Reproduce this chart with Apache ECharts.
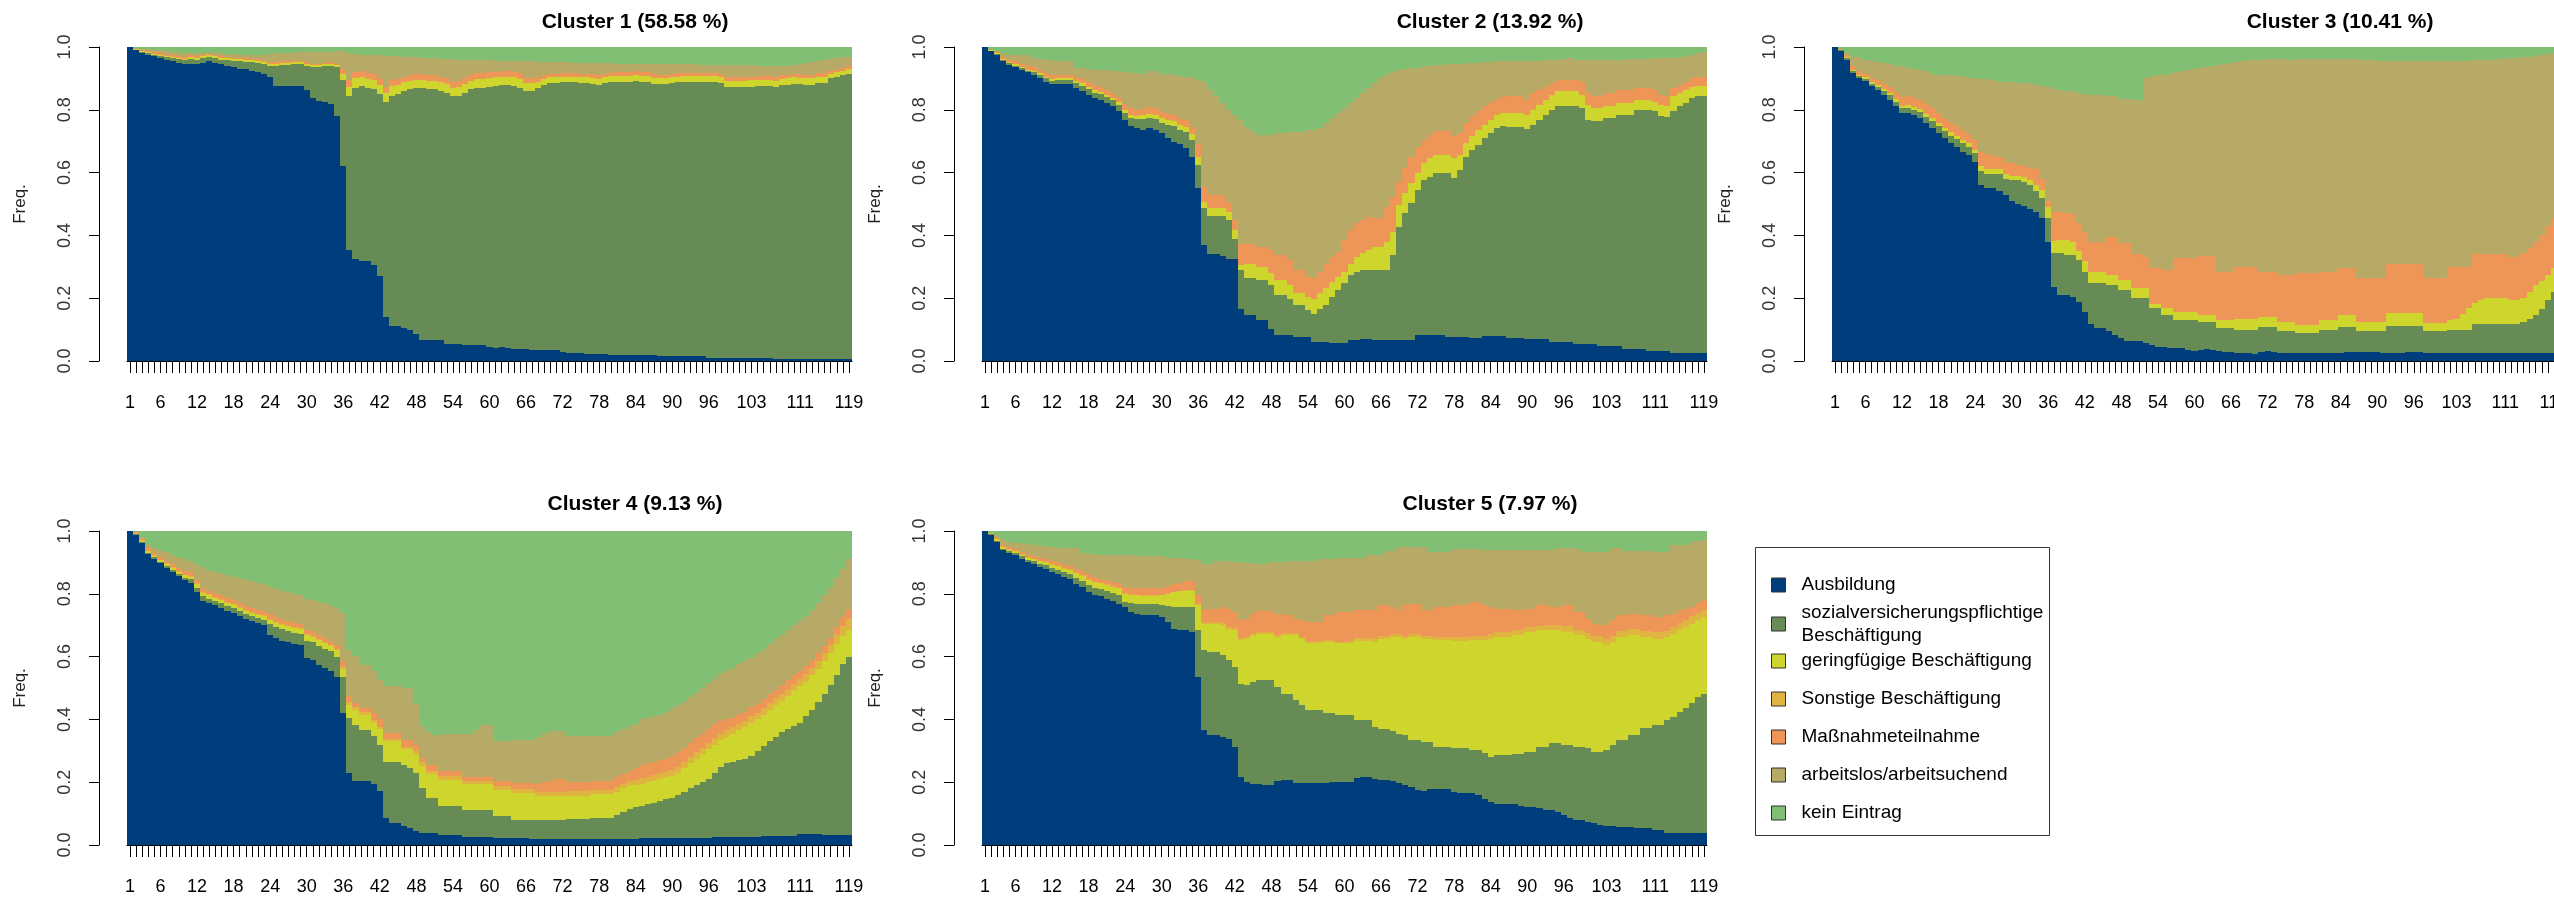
<!DOCTYPE html>
<html>
<head>
<meta charset="utf-8">
<script src="https://cdn.jsdelivr.net/npm/echarts@6.0.0/dist/echarts.min.js"></script>
<style>
  html, body { margin: 0; padding: 0; background: #fff; }
  #chart { width: 2554px; height: 900px; }
</style>
</head>
<body>
<div id="chart"></div>
<script>
// months on the x axis, and the ones R managed to label
const months = Array.from({ length: 119 }, (_, i) => String(i + 1))
const shownTicks = [1, 6, 12, 18, 24, 30, 36, 42, 48, 54, 60, 66, 72, 78, 84, 90, 96, 103, 111, 119]

const states = [
  'Ausbildung',
  'sozialversicherungspflichtige Beschäftigung',
  'geringfügige Beschäftigung',
  'Sonstige Beschäftigung',
  'Maßnahmeteilnahme',
  'arbeitslos/arbeitsuchend',
  'kein Eintrag'
]
const stateColors = ['#003D7C', '#668B55', '#CED62E', '#E0B440', '#EE9558', '#B7A966', '#81BF74']

// upper edges (in %) of the stacked states.
// Sonstige is kept as its own share, it sits between geringfügig and Maßnahme.
const noSonstige = [0,0,0,0,0,0,0,0,0,0, 0,0,0,0,0,0,0,0,0,0, 0,0,0,0,0,0,0,0,0,0, 0,0,0,0,0,0,0,0,0,0,
  0,0,0,0,0,0,0,0,0,0, 0,0,0,0,0,0,0,0,0,0, 0,0,0,0,0,0,0,0,0,0, 0,0,0,0,0,0,0,0,0,0,
  0,0,0,0,0,0,0,0,0,0, 0,0,0,0,0,0,0,0,0,0, 0,0,0,0,0,0,0,0,0,0, 0,0,0,0,0,0,0,0,0]

// Cluster 1
const c1Aus = [100,99,98,97.5,97,96.5,96,95.5,95,94.5,
  94.5,94.5,95,95.5,95,94.5,94,93.5,93,93,
  92.5,92,91.5,90.5,87.7,87.7,87.7,87.7,87.5,86.4,
  83.7,82.7,82.5,82,78,62,35.5,32.5,32,32,
  30.5,27,14,11,11,10.5,10,8.5,6.6,6.6,
  6.6,6.6,5.5,5.5,5.5,5,5,5,5,4.5,
  4,4.3,4,3.7,3.7,3.7,3.4,3.4,3.4,3.4,
  3.4,3,2.7,2.7,2.7,2.3,2.3,2.3,2.3,2,
  2,2,2,1.8,1.8,1.8,1.8,1.5,1.5,1.5,
  1.5,1.5,1.5,1.5,1.5,1.1,1.1,1.1,1.1,1.1,
  1.1,1.1,1.1,1.1,1.1,1.1,0.6,0.6,0.6,0.6,
  0.6,0.6,0.6,0.6,0.6,0.6,0.6,0.6,0.6]
const c1Svb = [100,99.2,98.4,98,97.6,97.2,96.8,96.5,96.2,96,
  96.2,96,96.5,96.8,96.5,96,95.8,95.5,95.5,95.3,
  95.2,95,94.5,94,94,94.3,94.3,94.5,94.5,94,
  93.5,93.5,93.8,94,93.5,89.5,84.5,87,87.5,86.8,
  86.5,85,82.5,84.5,85,86,86.5,86.8,86.8,86.5,
  86.5,86,85.5,84.3,84.5,85.5,86.5,87,87,87.3,
  87.5,87.8,87.8,87.5,87,86,86,87,88,88.5,
  88.5,88.7,88.7,88.7,88.5,88.5,88.3,88,88.5,88.8,
  89,89,89,89.2,89,89,88.3,88.2,88.2,88.5,
  88.7,88.8,88.8,88.8,88.8,88.8,88.8,88.5,87.3,87.2,
  87.2,87.3,87.4,87.5,87.5,87.5,87.3,87.8,88,88.3,
  88.2,88,88,88.4,88.5,90,90.5,91,91.5]
const c1Ger = [100,99.3,98.6,98.3,97.9,97.5,97.1,96.8,96.5,96.3,
  96.8,96.6,97.1,97.4,97.1,96.6,96.4,96.1,96.1,95.9,
  95.8,95.6,95.1,94.6,94.7,95,95,95.2,95.2,94.7,
  94.2,94.2,94.5,94.7,94.2,91.5,87.3,90,90.5,89.8,
  89.5,88,85.5,87.5,88,88.8,89.3,89.6,89.6,89.3,
  89.3,88.8,88.3,87.1,87.3,88.3,89.3,89.8,89.8,90.1,
  90.3,90.6,90.6,90.3,89.8,88.6,88.6,88.9,89.9,90.4,
  90.4,90.6,90.6,90.6,90.4,90.4,90.2,89.9,90.4,90.7,
  90.9,90.9,90.9,91.1,90.9,90.9,90.2,90.1,90.1,90.4,
  90.6,90.7,90.7,90.7,90.7,90.7,90.7,90.4,89.3,89.2,
  89.2,89.3,89.4,89.5,89.5,89.5,89.3,89.8,90,90.3,
  90.2,90,90,90.4,90.5,91.4,91.9,92.4,92.9]
const c1Mas = [100,99.5,98.9,98.6,98.3,98,97.6,97.3,97,96.8,
  97.3,97.1,97.6,97.9,97.6,97.1,96.9,96.6,96.6,96.4,
  96.3,96.1,95.6,95.1,95.2,95.5,95.5,95.7,95.7,95.2,
  94.7,94.7,95,95.2,94.7,93,89.4,91.9,92.4,91.7,
  91.4,89.9,87.4,89.4,89.9,90.6,91.1,91.4,91.4,91.1,
  91.1,90.6,90.1,88.9,89.1,90.1,91.1,91.6,91.6,91.9,
  92.1,92.4,92.4,92.1,91.6,90.1,90.1,90,91,91.5,
  91.5,91.7,91.7,91.7,91.5,91.5,91.3,91,91.5,91.8,
  92,92,92,92.2,92,92,91.3,91.2,91.2,91.5,
  91.7,91.8,91.8,91.8,91.8,91.8,91.8,91.5,90.5,90.4,
  90.4,90.5,90.6,90.7,90.7,90.7,90.5,91,91.2,91.5,
  91.4,91.2,91.2,91.6,91.7,92.3,92.8,93.3,93.8]
const c1Alo = [100,99.8,99.5,99.3,99.1,98.9,98.7,98.5,98.3,98.2,
  98,98,98.2,98.3,98.2,98,97.8,97.7,97.6,97.5,
  97.5,97.5,97.6,97.8,98,98.1,98.2,98.2,98.3,98.3,
  98.3,98.3,98.4,98.5,98.6,98.6,98.2,97.8,97.6,97.5,
  97.4,97.3,97.2,97.1,97,96.9,96.8,96.7,96.6,96.5,
  96.4,96.3,96.2,96.1,96,96,96,96,95.9,95.8,
  95.7,95.6,95.6,95.5,95.5,95.4,95.4,95.3,95.3,95.2,
  95.2,95.1,95.1,95,95,95,94.9,94.8,94.8,94.8,
  94.7,94.7,94.7,94.7,94.6,94.6,94.6,94.6,94.5,94.5,
  94.5,94.5,94.5,94.5,94.4,94.4,94.4,94.4,94.3,94.3,
  94.2,94.2,94.2,94.1,94.1,94,94,94,94.1,94.3,
  94.5,94.8,95.1,95.4,95.8,96.2,96.5,96.7,96.9]

// Cluster 2
const c2Aus = [100,98.6,97.5,95.4,94.4,93.6,92.8,91.9,91.2,90.1,
  89,88.2,88.2,88.2,88.2,86.9,85.9,84.8,83.7,83.2,
  82.1,81.1,79.5,76.8,74.9,74.1,73.6,74.1,73.6,72.6,
  71,69.9,69.1,67.8,65.1,55,36.9,34,34,33.5,
  32.5,32.5,16.7,14.6,14.6,13,13,10.3,8.2,8.2,
  8.2,7.5,7.5,7.5,6.1,6.1,6.1,5.7,5.7,5.7,
  6.6,6.6,7.1,7.1,6.8,6.8,6.8,6.8,6.8,6.8,
  6.8,8.2,8.2,8.2,8.2,8.2,7.7,7.7,7.7,7.7,
  7.3,7.3,7.9,7.9,7.9,7.9,7.4,7.4,7.4,6.9,
  6.9,6.9,6.9,6.1,6.1,6.1,6.1,5.3,5.3,5.3,
  5.3,4.7,4.7,4.7,4.7,3.9,3.9,3.9,3.9,3.2,
  3.2,3.2,3.2,2.6,2.6,2.6,2.6,2.6,2.6]
const c2Svb = [100,98.8,97.8,95.8,94.8,94,93.2,92.3,92,91,
  90,89.3,89.4,89.4,89.4,88.5,87.6,86.6,85.5,85,
  84,83,81.5,79,77.5,77,77,77.5,77,75.8,
  75.2,74.7,73.5,72.8,70.4,62.5,48.6,46.2,46.2,46.2,
  44.9,39,28.9,26.3,26.3,25.7,25.7,24.1,21,21,
  19.9,17.8,17.8,16.2,15.1,16.7,17.8,20.4,22.6,24.7,
  27.3,28.4,28.9,29.1,29.1,29.1,28.9,33.7,42.8,47,
  50.2,54.5,57.7,58.7,59.8,59.8,59.8,58.2,60.9,65.1,
  67.2,68.8,71,72.6,74.1,74.9,74.5,74.5,74.5,73.8,
  75.2,76.8,78.4,80,81.3,81.3,81.3,81.3,80.5,76.8,
  76.3,76.3,77.3,77.3,78.4,78.4,78.4,80,80,80,
  79.5,77.9,77.7,79.5,81.1,82.1,83.7,84.3,84.3]
const c2Ger = [100,99,98.1,96.2,95.2,94.5,93.7,92.8,92.5,91.6,
  90.6,89.9,90,90,90,89.3,88.4,87.4,86.3,85.8,
  84.8,83.8,82.4,80,78.5,78,78.2,78.8,78.4,77.4,
  76.8,76.3,75.1,74.5,72.2,65,50.7,48.6,48.6,48.6,
  47.6,41.7,30.5,31,31,30,30,27.9,25.7,25.7,
  24.1,21.5,21.5,20.4,19.9,21.5,23.1,25.2,26.8,28.4,
  31,33.2,34.3,35.3,36.4,36.4,38,41.2,49.7,53.4,
  56.6,59.8,63,64.6,65.6,65.6,65.6,64.6,65.6,69.4,
  71.5,73.6,75.2,76.8,78.4,79.1,78.9,78.9,78.9,78.4,
  80,81.6,83.2,84.8,85.9,85.9,85.9,85.9,84.8,81.6,
  80.5,80.5,81.1,81.1,82.1,82.1,82.1,83.2,83.2,83.2,
  82.6,81.6,81.1,84.3,85.3,86.4,87.4,87.7,87.7]
const c2Mas = [100,99.2,98.5,96.8,96,95.4,94.7,93.9,93.6,92.7,
  91.7,91,91.1,91.1,91,90.5,89.7,88.8,87.8,87.3,
  86.4,85.5,84.2,82,80.5,80,80.3,81,80.6,79.4,
  78.8,78.3,77.2,76.6,74.4,69,55.5,52.9,52.9,52.9,
  50.7,44.9,37.4,37.4,37.4,36.4,36.4,35.3,33.7,33.7,
  32.1,28.9,28.9,26.8,26.3,28.4,31,33.2,34.8,38.5,
  41.7,43.8,44.9,46,45.4,45.4,49.1,52.3,57.1,61.4,
  65.1,68.3,70.4,72,73.1,73.1,73.1,71.5,72.6,75.7,
  77.9,79.5,81.1,82.1,83.2,84,84.3,84.3,84.3,83.2,
  85.3,86.4,87.4,88.5,89.4,89.4,89.4,89.4,89,85.3,
  84.3,84.3,85.3,85.3,86.4,86.4,86.4,86.9,86.9,86.9,
  86.4,84.8,84.3,86.9,88,89,90.1,90.4,90.4]
const c2Alo = [100,99.5,98.8,98,97.3,97.3,97.3,97.3,96.5,96.3,
  96,95.8,95.6,95.5,95.5,93.3,93.2,93,92.8,92.7,
  92.6,92.5,92.2,92,91.8,91.6,91.5,92.3,92.2,91.5,
  91.3,91,90.8,90.6,90.5,89.5,89,86.4,84.3,82.1,
  80,78.4,76.8,74.5,73.1,72,72,72,72.5,72.5,
  72.8,73,73,73.6,73.6,74.1,75.7,77.3,78.9,80.5,
  82.1,83.7,85.3,86.9,88.5,90.1,91.2,91.9,92.6,93,
  93.3,93.3,93.8,93.8,94.4,94.4,94.7,94.7,94.7,95,
  95,95,95.1,95.2,95.4,95.4,95.4,95.4,95.4,95.5,
  95.6,95.7,95.8,95.9,96,96.2,96.5,96,96,95.8,
  95.8,96,96,96,96,96,96.1,96.2,96.2,96.3,
  96.5,96.5,96.5,96.6,96.8,97.2,97.6,98,98.3]

// Cluster 3
const c3Aus = [100,98.6,96,91.7,90.1,89.1,87.5,86.4,84.8,83.2,
  81.1,79,79,78.4,77.4,75.8,74.2,72.6,71,69.4,
  68.3,66.7,65.7,63.5,56.1,55,55,54,52.9,51,
  50,49.5,48.5,47.5,45.5,38,23.7,21,21,20.5,
  18.9,15.7,11.7,10.6,10.6,9.4,8.3,7.2,6.4,6.4,
  6.4,5.6,5.1,4.6,4.3,4,4,4,3.5,3.2,
  3.5,3.8,3.5,3.2,2.8,2.8,2.4,2.4,2.4,2.1,
  2.8,3.2,2.8,2.4,2.4,2.4,2.4,2.4,2.4,2.4,
  2.4,2.4,2.4,2.4,3,3,3,3,2.8,2.8,
  2.6,2.6,2.6,2.6,2.8,2.8,2.8,2.6,2.6,2.6,
  2.4,2.4,2.4,2.4,2.4,2.4,2.4,2.4,2.6,2.4,
  2.4,2.4,2.4,2.4,2.4,2.4,2.4,2.4,2.4]
const c3Svb = [100,98.9,96.5,92.3,90.7,89.8,88.3,87.3,86,84.6,
  82.6,80.5,80.5,80,79.2,77.8,76.3,74.8,73.2,71.8,
  70.8,69.3,68.3,66.2,60.4,59.5,59.5,59.5,58,57.5,
  57.5,57,56,54,52,45.5,34.4,34.4,33.8,33.8,
  32.2,28.5,24.8,24.8,24.8,24.2,24.2,22.6,22.6,20,
  20,20,16.8,16.8,14.7,14.7,13,13,13,13,
  12.5,12.5,12.5,10.4,10.4,10.4,9.9,9.9,9.9,9.9,
  10.9,10.9,10.9,9.4,9.4,9.4,8.8,8.8,8.8,8.8,
  9.9,9.9,9.9,10.9,10.9,10.9,9.4,9.4,9.4,9.4,
  9.4,11,11,11,11,11,11,9.4,9.4,9.4,
  9.4,10,10,10,10,11.7,11.7,11.7,11.7,11.7,
  11.7,11.7,11.7,12.5,13.5,14.6,16.5,19.5,22]
const c3Ger = [100,99,96.8,92.7,91.1,90.3,88.8,87.9,86.6,85.3,
  83.4,81.3,81.5,81,80.2,78.8,77.3,75.8,74.2,72.8,
  71.8,70.3,69.3,67.2,62,61,61,61,59.5,59,
  59,58.5,57.5,56,54.5,49,38.1,38.5,38.5,38,
  34.9,31.7,28.5,28.5,28.5,27.4,27.4,25.8,25.8,23.2,
  23.2,23.2,18,18,16.8,16.8,15.7,15.7,15.7,15.7,
  14.7,14.7,14.7,13,13,13,13.3,13.3,13.3,13.3,
  14.1,14.1,14.1,12.5,12.5,12.5,11.5,11.5,11.5,11.5,
  13,13,13,14.7,14.7,14.7,12.5,12.5,12.5,12.5,
  12.5,15.2,15.2,15.2,15.2,15.2,15.2,12,12,12,
  12,13,13.5,15,17,18.5,19.5,20,20,20,
  20,19.5,19.5,20,22,24.2,25.5,27.5,29.5]
const c3Mas = [100,99.3,97.5,93.8,92.2,91.5,90.2,89.4,88.2,87.2,
  85.6,84,84.3,83.8,83.2,82,80.5,79,77.5,76,
  75,73.5,72.3,70.5,66.5,65.8,65.5,65,63.5,63,
  62.5,62,61.5,61,58,51,47.6,47.6,47,46.8,
  43.9,41.2,38,38,38,39.6,39.6,37.5,37.5,34,
  34,33,29.5,29.5,29,29,32.7,32.7,32.7,32.7,
  33.5,33.5,33.5,28.5,28.5,28.5,30,30,30,30,
  28.5,28.5,28.5,27.4,27.4,27.4,28,28,28,28,
  28.5,28.5,28.5,29.5,29.5,29.5,26.4,26.4,26.4,26.4,
  26.4,31,31,31,31,31,31,26.4,26.4,26.4,
  26.4,30,30,30,30,34,34,34,34,34,
  34,33,33,34.5,36,38,40,43,45.5]
const c3Alo = [100,99.3,98,96.8,96.7,95.8,95.5,95.3,95,94.5,
  94,93.8,93.2,93,92.8,92.5,91.5,91.2,91,91,
  90.8,90.7,90.2,90,89.9,89.8,89.6,89,88.8,88.7,
  88.6,88.5,88.4,88,87.6,87.2,86.5,86.3,86.1,86,
  85.3,85,84.8,84.7,84.6,84.5,84.4,83.5,83.3,83.2,
  83.2,90.1,90.8,91,91.2,91.5,92,92.3,92.6,93,
  93.3,93.7,94,94.3,94.7,95,95.2,95.4,95.8,96,
  96,96.1,96.1,96.2,96.1,96,96.1,96.2,96.2,96.1,
  96.2,96.3,96.3,96.2,96.1,96.2,96.1,96,95.9,95.8,
  95.7,95.7,95.6,95.5,95.5,95.4,95.4,95.4,95.5,95.5,
  95.6,95.6,95.6,95.6,95.7,95.8,95.8,95.9,96,96.1,
  96.3,96.4,96.5,96.7,96.9,97.1,97.4,97.7,98]

// Cluster 4
const c4Aus = [100,98.7,96.1,92.6,91.1,89.7,88.3,87.1,85.8,84.4,
  83.4,80.7,77.8,77,76.3,75.4,74.6,73.8,72.8,71.9,
  71.2,70.7,70.1,67,65.9,65,64.5,64,63.6,59.7,
  59,57.4,56.4,55.5,53.4,42.1,23,20.5,20.5,20.5,
  19.3,17.2,8.7,7.1,7.1,6,5.3,4.4,3.9,3.9,
  3.9,3.2,3.2,3.2,3.2,2.6,2.6,2.6,2.6,2.6,
  2.3,2.3,2.3,2.3,2.3,2.3,1.8,1.8,1.8,1.8,
  1.8,1.8,1.8,1.8,1.8,1.8,1.8,1.8,1.8,1.8,
  1.8,1.8,1.8,1.8,2.3,2.3,2.3,2.3,2.3,2.3,
  2.3,2.3,2.3,2.3,2.3,2.3,2.6,2.6,2.6,2.6,
  2.6,2.6,2.6,2.6,3,3,3,3,3,3,
  3.4,3.4,3.4,3.4,3.2,3.2,3.2,3.2,3.2]
const c4Svb = [100,99,96.5,93.1,91.6,90.2,88.9,87.7,86.4,85.1,
  84.6,82,79.2,78.5,77.8,77,76.2,75.4,74.5,73.6,
  72.9,72.4,71.8,70.5,69.5,68.7,68.2,67.6,67.2,65,
  64.5,63.5,62.5,61.7,60,53.5,40.5,38.3,36.5,36.5,
  34.6,32,26.5,26.5,26.5,25.5,24.5,23,18.2,15,
  15,12.3,12.3,12.3,12.3,11.3,11.3,11.3,11.3,11.3,
  9.3,9.3,9.3,7.9,7.9,7.9,7.9,8,8,8,
  8,8,8.2,8.2,8.2,8.2,8.7,8.7,8.7,8.7,
  9.5,10.5,11.5,12,12.5,13,13.5,14,14.5,15,
  16,17,18,19,20,21,23,25,26,26.3,
  27,27.5,28.5,30,31.5,33,34.5,36,37,38,
  39,41,43,45.5,48,51,54,57.5,60]
const c4Ger = [100,99.2,96.8,93.5,92.1,90.7,89.5,88.3,87.1,85.9,
  85.5,83,80.2,79.5,78.8,78,77.2,76.4,75.5,74.6,
  73.9,73.4,72.8,71.7,70.8,70.1,69.6,69.1,68.7,66.8,
  66.3,65.3,64.3,63.5,62,56,44.7,43.1,41.5,41.5,
  38.9,36.8,33,33,33,30.5,30.5,28.8,25.1,22.5,
  22.5,20.8,20.8,20.8,20.8,19.3,19.3,19.3,19.3,19.3,
  17.5,17.5,17.5,16.6,16.6,16.6,16.6,15.5,15.5,15.5,
  15.5,15.5,15.6,15.6,15.6,15.6,16.1,16.1,16.1,16.1,
  17,18,19,19.2,19.5,20,20.5,21,21.5,22,
  23,24.5,26,27.5,29,30.5,32,33.5,34.5,35.5,
  36.5,37.5,39,40,41.5,43,44.5,46,47.5,49,
  50.5,52,54,56,58.5,61,64,66.5,68.5]
const c4Son = [0,0.2,0.2,0.2,0.2,0.2,0.2,0.2,0.2,0.2,
  0.3,0.3,0.3,0.3,0.3,0.3,0.3,0.3,0.3,0.3,
  0.3,0.3,0.3,0.3,0.3,0.3,0.3,0.3,0.3,0.3,
  0.3,0.3,0.3,0.3,0.3,0.6,0.8,0.8,0.8,0.8,
  0.8,0.8,0.8,0.8,0.8,0.8,0.8,1,1.2,1.2,
  1.2,1.2,1.2,1.2,1.2,1.2,1.2,1.2,1.2,1.2,
  1.2,1.2,1.2,1.2,1.2,1.2,1.2,1.5,1.5,1.5,
  1.5,1.5,1.5,1.5,1.5,1.5,1.5,1.5,1.5,1.5,
  1.5,1.5,1.5,1.5,1.8,1.8,1.8,1.8,1.8,1.8,
  2,2,2,2,2,2,2,2,2,2,
  2,2,2,2,2.2,2.2,2.2,2.2,2.2,2.2,
  2.5,2.5,2.5,2.5,2.8,2.8,3,3.2,3.5]
const c4Mas = [100,99.6,97.5,94.5,93,91.8,90.6,89.5,88.3,87.2,
  86.8,84.5,81.8,81,80.3,79.5,78.8,78,77.1,76.2,
  75.5,75,74.5,73.5,72.5,71.8,71.3,70.8,70.4,68.5,
  68,67,66,65,63.7,58.5,47.4,45.2,43.5,43.5,
  42,40,35.7,35.7,35.7,33.3,33.3,32,27.8,25.6,
  25.6,23.5,23.5,23.5,23.5,21.5,21.5,21.5,21.5,21.5,
  20.3,20.3,20.3,19.8,19.8,19.8,19.8,19.3,20,20.5,
  21,21,20.1,20.1,20.1,20.1,20.3,20.3,20.3,20.3,
  21.5,22.5,23.5,24.5,25.5,26,26.5,27,27.5,28.5,
  29.5,31,32.5,34,35.5,37,38.5,39.5,40,40.5,
  41.5,42.5,44,45,46.5,48,49.5,51,52.5,54,
  55.5,57,59,61,63.5,66,69.5,72.5,75]
const c4Alo = [100,99.8,98,95.5,94.5,94,93.2,92.5,91.8,91.2,
  90.5,89.5,88.5,87.5,87,86.5,86,85.5,85,84.5,
  84,83.5,83,82.3,81.5,81,80.7,80,79.5,78.5,
  78,77.5,77,76.5,75.5,74,62.2,60.1,57.4,57.4,
  55.3,52.6,50.7,50.7,50.7,50,50,45,38,36,
  35,35,35.2,35.2,35.2,35.2,35.5,36.5,38.3,38.3,
  33,33,33,33.5,33.5,33.5,33.5,34.5,35.5,36.3,
  36.3,36.3,34.6,34.6,34.6,34.6,34.6,34.6,34.6,34.6,
  36,37,38,38.5,40,40.5,41,41.5,42.5,43.5,
  44.5,45.5,47,48.5,50,51.5,53,54.5,55.5,56.5,
  57.5,58.5,59.5,61,62.5,64,65.5,67,68.5,70,
  71.5,73,75,77,79.5,82,85,88,91]

// Cluster 5
const c5Aus = [100,98.6,96.5,93.8,93,92.3,91.2,90.1,89.4,88.5,
  88,87,86.4,85.4,84.8,83.2,82.2,80.6,79.5,79.2,
  78.5,77.7,76.9,75.8,74.2,73.7,73.2,73.2,73.2,72.6,
  71,68.9,68.6,68.4,67.9,53.6,36.6,35,35,34.5,
  33.6,31.3,21.7,20.1,19.4,19.4,19,19,20.5,20.7,
  20.7,19.8,19.8,19.8,19.8,19.8,19.6,20.1,20.1,20.1,
  20.1,21.2,21.5,21.5,20.9,20.7,20.7,20.5,19.8,19,
  18.6,17.5,17.2,17.7,17.7,17.7,17.7,17,16.7,16.7,
  16.7,15.9,14.8,13.8,13,13,13,13,12.4,12,
  12,11.7,11.3,11.3,10.6,9.5,8.5,8,8,7.4,
  6.9,6.4,6,6,5.6,5.6,5.6,5.3,5.3,5.3,
  4.8,4.8,3.9,3.9,3.9,3.9,3.9,3.9,3.9]
const c5Svb = [100,98.9,96.9,94.3,93.6,92.9,91.9,90.9,90.3,89.5,
  89.1,88.2,87.7,86.8,86.3,85,84.2,82.8,81.9,81.6,
  81,80.3,79.7,77.5,77,76.8,76.6,76.6,76.6,76.4,
  76,75.8,75.8,75.8,75.8,68.4,62,61.5,61.5,60.4,
  58.9,56.7,51.4,50.9,52,52.5,52.5,52.5,50.4,48,
  48,46.1,44.5,42.9,42.9,42.9,41.9,41.9,41.4,41.4,
  41.4,39.8,39.8,39.8,37.6,36.8,36.8,36.4,35.5,35,
  33.4,33.4,32.9,32.9,31.3,31.3,31.3,30.8,30.8,30.8,
  30.2,30.2,29.2,28.1,28.6,28.6,28.6,29,29,29.6,
  29.6,31.3,31.3,32.4,32.4,31.8,31.8,31.3,31.3,30.8,
  29.7,29.7,30.2,31.8,33.4,33.4,35,35,37.2,37.2,
  38.2,38.2,39.8,40.8,42.4,43.5,45.1,47,48]
const c5Ger = [100,99.1,97.3,94.8,94.1,93.5,92.5,91.5,91,90.3,
  90,89.2,88.8,88,87.6,86.5,85.8,84.5,83.6,83.3,
  82.8,82.2,81.7,80,79.7,79.5,79.3,79.3,79.3,79.5,
  80,80.5,80.8,81,81,76.4,70.5,70.5,70.5,70,
  68.9,68.4,65.2,65.7,66.7,67.3,67.3,67.3,66.3,66.8,
  66.8,66.8,65.7,64.3,64.3,64.3,64.7,64.7,64.2,64.2,
  64.2,65,65,65,64.7,65.7,65.7,66.3,66.3,65.7,
  66.3,66.3,65.7,65.7,65.2,65.2,65.2,65,65,65,
  65.2,65.2,65.2,65.7,66.3,66.3,66.3,67,67,67.9,
  67.9,68.4,68.4,68.4,68.4,67.9,67.9,66.8,66.8,65.7,
  64.5,64.5,63.6,64.7,66.3,66.3,66.8,66.8,66.3,66.3,
  65.7,65.7,66.3,67.3,68.4,69.5,70.5,71.5,72.5]
const c5Son = [0,0.2,0.2,0.2,0.2,0.2,0.2,0.2,0.2,0.2,
  0.2,0.2,0.2,0.2,0.2,0.2,0.2,0.2,0.2,0.2,
  0.2,0.2,0.2,0.2,0.2,0.2,0.2,0.2,0.2,0.2,
  0.2,0.2,0.2,0.2,0.2,0.5,0.6,0.6,0.6,0.6,
  0.6,0.6,0.6,0.6,0.6,0.6,0.6,0.6,0.6,0.6,
  0.6,0.6,0.6,0.6,0.6,0.6,0.6,0.6,0.6,0.6,
  0.8,0.8,0.8,0.8,0.8,0.8,0.8,0.8,0.8,0.8,
  1,1,1,1,1,1.2,1.2,1.2,1.2,1.2,
  1.5,1.5,1.5,1.5,1.5,1.5,1.5,1.5,1.5,1.5,
  1.5,1.5,1.8,1.8,1.8,1.8,1.8,1.8,1.8,1.8,
  2,2,2,2,2,2,2,2,2,2,
  2,2,2,2,2.2,2.2,2.3,2.5,2.5]
const c5Mas = [100,99.4,97.8,95.5,94.8,94.3,93.4,92.5,92,91.4,
  91.1,90.4,90,89.3,88.9,88,87.3,86.3,85.4,84.8,
  84.3,83.8,83.3,82.3,82,82,82,82,82,82,
  82.5,83,83.5,84,84,79.5,75,75.3,75.3,75.8,
  75.3,74.2,71.6,72.1,73.7,74.5,74.5,74.5,73.7,73.2,
  73.2,72.1,71.6,71,71,71,73.2,73.2,74.2,74.2,
  74.2,74.8,74.8,74.8,74.8,76.4,76.4,75.8,74.8,76.4,
  76.9,76.9,74.8,74.8,75.8,75.8,75.8,76.4,76.4,76.4,
  77.4,77.4,76.4,75.8,75.3,75.3,75.3,74.8,74.8,75.3,
  75.3,76.4,76.4,75.8,75.8,76.4,76.4,74.2,74.2,72.1,
  70.5,70,70,71.6,73.2,73.2,73.7,73.7,73.2,73.2,
  72.6,72.6,73.2,73.7,74.8,75.3,75.8,77,78]
const c5Alo = [100,99.5,98.8,97.5,96.5,96.3,96.2,96,95.5,95.3,
  95.2,95,94.5,94.5,94.5,94.5,93,92.8,92.6,92.5,
  92.3,92.3,92.3,92.3,92.3,92,92,92,92,92,
  91.5,91.5,91.3,91.2,91,90.8,89.5,89.5,90.5,90.5,
  90.5,90,90,89.8,89.7,89.6,89.5,90,90,90,
  90.5,90.5,90.5,90.5,90.5,91,91,91,91.5,91.5,
  91.5,91.5,91.5,92.5,92.5,92.5,93.5,93.5,94.9,94.9,
  94.9,94.9,94.9,93.3,93.3,93.3,93.3,94.4,94.4,94.4,
  94.4,94.4,93.8,93.8,93.8,94.1,94.1,94.1,94.1,94.1,
  94.1,94.1,94.1,94.1,94.7,94.7,94.7,94.7,93.5,93.2,
  93.2,93.2,93.2,94.7,94.7,93.5,93.5,93.5,93.5,93.5,
  93.2,93.2,93.2,95.4,95.4,95.4,96.5,96.8,97.2]

const clusters = [
  { title: 'Cluster 1 (58.58 %)', aus: c1Aus, svb: c1Svb, ger: c1Ger, son: noSonstige, mas: c1Mas, alo: c1Alo },
  { title: 'Cluster 2 (13.92 %)', aus: c2Aus, svb: c2Svb, ger: c2Ger, son: noSonstige, mas: c2Mas, alo: c2Alo },
  { title: 'Cluster 3 (10.41 %)', aus: c3Aus, svb: c3Svb, ger: c3Ger, son: noSonstige, mas: c3Mas, alo: c3Alo },
  { title: 'Cluster 4 (9.13 %)', aus: c4Aus, svb: c4Svb, ger: c4Ger, son: c4Son, mas: c4Mas, alo: c4Alo },
  { title: 'Cluster 5 (7.97 %)', aus: c5Aus, svb: c5Svb, ger: c5Ger, son: c5Son, mas: c5Mas, alo: c5Alo }
]

// panel placement (grid left/top in px)
const panelPos = [[127, 47], [982, 47], [1832, 47], [127, 531], [982, 531]]
const panelW = 725
const panelH = 314
const FONT = '"Liberation Sans", Arial, sans-serif'

clusters.forEach((c, n) => {
  ['aus', 'svb', 'ger', 'son', 'mas', 'alo'].forEach(k => {
    if (c[k].length !== months.length) throw new Error('cluster ' + (n + 1) + ' ' + k + ' has ' + c[k].length)
  })
})

// [month index, lower edge, upper edge] per state, in 0..1
function toSegments(c) {
  const out = states.map(() => [])
  for (let i = 0; i < months.length; i++) {
    const e = [0, c.aus[i], c.svb[i], c.ger[i], c.ger[i] + c.son[i], c.mas[i], c.alo[i], 100]
    for (let k = 0; k < states.length; k++) {
      const lo = e[k]
      const hi = Math.max(lo, e[k + 1])
      out[k].push([i, lo / 100, hi / 100])
    }
  }
  return out
}

// one bar segment, snapped to whole pixels so neighbours meet without seams
function renderSegment(params, api) {
  const i = api.value(0)
  const lo = api.coord([i, api.value(1)])
  const hi = api.coord([i, api.value(2)])
  const w = api.size([1, 0])[0]
  const x0 = Math.round(lo[0] - w / 2)
  const x1 = Math.round(lo[0] + w / 2)
  const y0 = Math.round(lo[1])
  const y1 = Math.round(hi[1])
  if (y0 - y1 <= 0) return null
  return {
    type: 'rect',
    shape: { x: x0, y: y1, width: x1 - x0, height: y0 - y1 },
    style: { fill: api.visual('color') }
  }
}

const grid = []
const xAxis = []
const yAxis = []
const series = []
const graphic = []

clusters.forEach((c, n) => {
  const [left, top] = panelPos[n]
  grid.push({ left, top, width: panelW, height: panelH, containLabel: false, outerBoundsMode: 'none' })
  xAxis.push({
    type: 'category',
    gridIndex: n,
    data: months,
    offset: 7,
    boundaryGap: true,
    axisLine: { show: true, lineStyle: { color: '#000', width: 1 } },
    axisTick: { show: true, interval: 0, alignWithLabel: true, length: 12, lineStyle: { color: '#000', width: 1 } },
    axisLabel: {
      interval: 0,
      margin: 26,
      fontSize: 18,
      fontFamily: FONT,
      color: '#000',
      hideOverlap: false,
      showMinLabel: true,
      showMaxLabel: true,
      formatter: v => (shownTicks.indexOf(Number(v)) >= 0 ? v : '')
    },
    splitLine: { show: false }
  })
  yAxis.push({
    type: 'value',
    gridIndex: n,
    min: 0,
    max: 1,
    interval: 0.2,
    offset: 28,
    name: 'Freq.',
    nameLocation: 'middle',
    nameGap: 70,
    nameTextStyle: { fontSize: 17, fontFamily: FONT, color: '#222' },
    axisLine: { show: true, lineStyle: { color: '#000', width: 1 } },
    axisTick: { show: true, length: 10, lineStyle: { color: '#000' } },
    axisLabel: {
      rotate: 90,
      margin: 25,
      fontSize: 18,
      fontFamily: FONT,
      color: '#333',
      formatter: v => v.toFixed(1)
    },
    splitLine: { show: false }
  })
  const segs = toSegments(c)
  states.forEach((name, k) => {
    series.push({
      type: 'custom',
      name,
      xAxisIndex: n,
      yAxisIndex: n,
      data: segs[k],
      encode: { x: 0, y: [1, 2] },
      renderItem: renderSegment,
      itemStyle: { color: stateColors[k] },
      silent: true,
      clip: true
    })
  })
  graphic.push({
    type: 'text',
    x: left + 508,
    y: n < 3 ? 22 : 504,
    style: {
      text: c.title,
      fontSize: 21,
      fontWeight: 'bold',
      fontFamily: FONT,
      fill: '#000',
      align: 'center',
      verticalAlign: 'middle'
    }
  })
})

// legend frame
graphic.push({
  type: 'rect',
  shape: { x: 1755.5, y: 547.5, width: 294, height: 288 },
  style: { fill: 'none', stroke: '#333', lineWidth: 1 }
})

const legendBase = {
  orient: 'vertical',
  left: 1771,
  padding: 0,
  icon: 'rect',
  itemWidth: 14,
  itemHeight: 14,
  itemGap: 16,
  selectedMode: false,
  itemStyle: { borderColor: '#333', borderWidth: 1 },
  textStyle: { fontSize: 19, fontFamily: FONT, color: '#000', lineHeight: 22, padding: [0, 0, 0, 11] }
}

const option = {
  animation: false,
  backgroundColor: '#fff',
  textStyle: { fontFamily: FONT },
  grid,
  xAxis,
  yAxis,
  legend: [
    Object.assign({}, legendBase, { top: 574, data: [states[0]] }),
    Object.assign({}, legendBase, {
      top: 601,
      data: [states[1]],
      formatter: name => name.replace(' ', '\n'),
      textStyle: Object.assign({}, legendBase.textStyle, { lineHeight: 23 })
    }),
    Object.assign({}, legendBase, { top: 650, data: states.slice(2) })
  ],
  graphic,
  series
}

const chart = echarts.init(document.getElementById('chart'), null, { renderer: 'canvas' })
chart.setOption(option)
</script>
</body>
</html>
